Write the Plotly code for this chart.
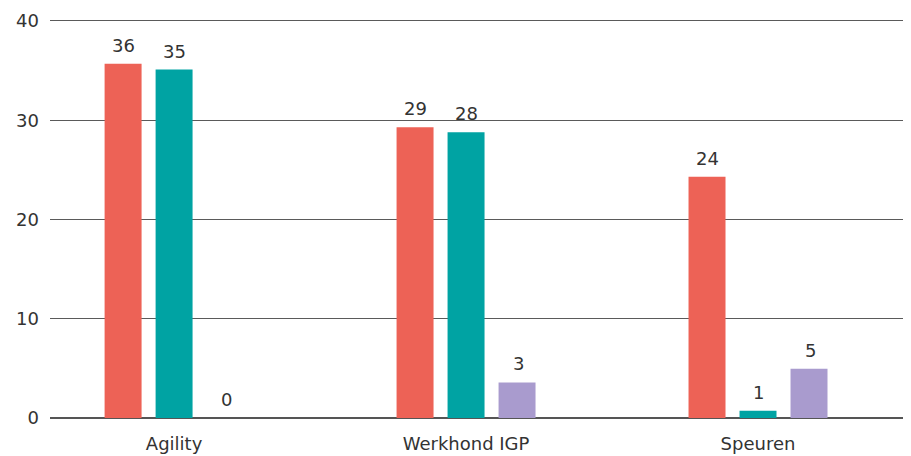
import plotly.graph_objects as go

categories = ["Agility", "Werkhond IGP", "Speuren"]
series_a = [35.7, 29.3, 24.3]
series_b = [35.1, 28.8, 0.73]
series_c = [0.0, 3.58, 4.96]
labels_a = ["36", "29", "24"]
labels_b = ["35", "28", "1"]
labels_c = ["0", "3", "5"]
y_ticks = [0, 10, 20, 30, 40]

colors = ["#ED6256", "#00A3A3", "#A99BCE"]
font_family = "DejaVu Sans, sans-serif"
text_color = "#333333"
bar_pitch_px = [-51, 0, 52]

fig = go.Figure()
annotations = []
for vals, labs, col, dx in zip([series_a, series_b, series_c], [labels_a, labels_b, labels_c], colors, bar_pitch_px):
    fig.add_trace(go.Bar(
        x=categories, y=vals,
        marker=dict(color=col, line=dict(width=0)),
        showlegend=False, hoverinfo="x+y",
    ))
    for c, v, t in zip(categories, vals, labs):
        annotations.append(dict(
            x=c, y=v, text=t, showarrow=False, xanchor="center", yanchor="bottom",
            xshift=dx, yshift=6,
            font=dict(family=font_family, size=18, color=text_color),
        ))

fig.update_layout(
    width=911, height=456,
    margin=dict(l=42, r=15, t=8, b=46),
    paper_bgcolor="white", plot_bgcolor="white",
    barmode="group", bargap=0.476, bargroupgap=0.275,
    font=dict(family=font_family, size=18, color=text_color),
    annotations=annotations,
)
fig.update_xaxes(
    range=[-0.425, 2.5], showgrid=False, showline=False, ticks="",
    ticklabelstandoff=13, automargin=False,
    tickfont=dict(family=font_family, size=18, color=text_color),
)
fig.update_yaxes(
    range=[0, 40.5], tickvals=y_ticks, showgrid=True, gridcolor="#5a5a5a", gridwidth=1,
    zeroline=True, zerolinecolor="#555555", zerolinewidth=1.5, showline=False, ticks="",
    ticklabelstandoff=10, automargin=False,
    tickfont=dict(family=font_family, size=18, color=text_color),
)

fig.write_html("out.html")
